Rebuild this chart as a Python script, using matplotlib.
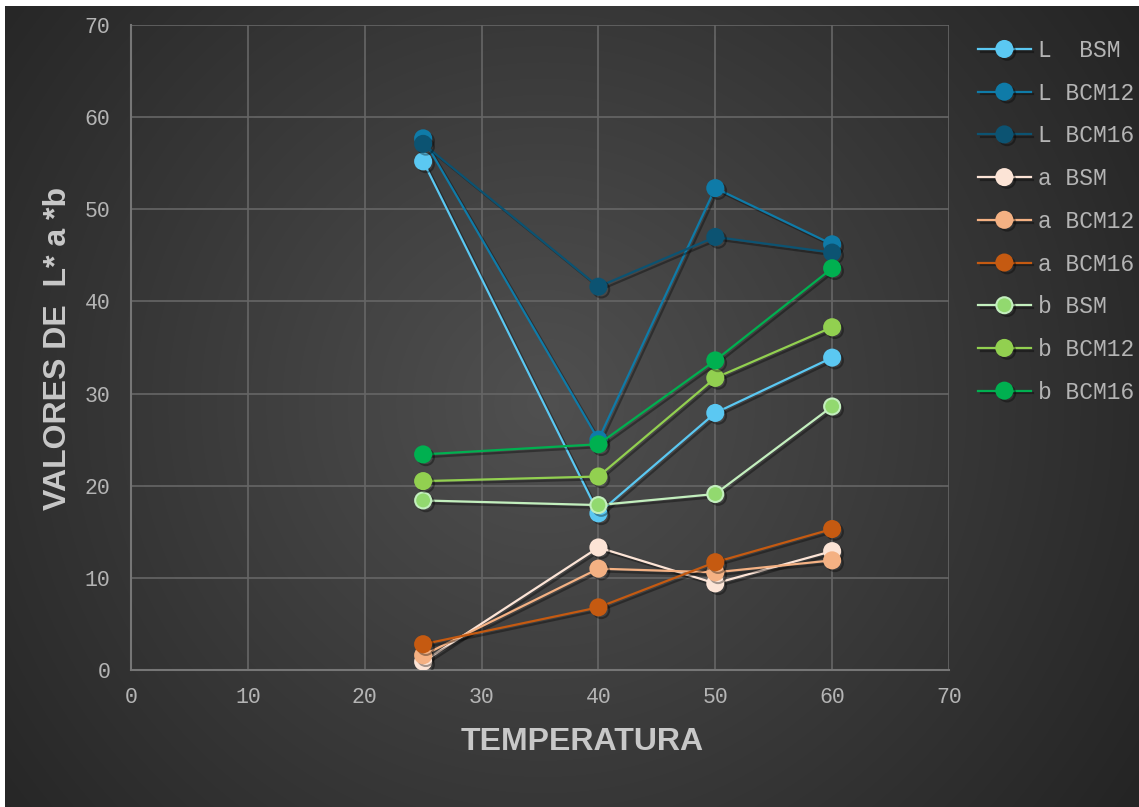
import numpy as np
import matplotlib
matplotlib.use("Agg")
from matplotlib import pyplot as plt
import matplotlib.patheffects as pe

temperatura = [25, 40, 50, 60]

L_BSM = [55.2, 17.0, 27.9, 33.9]
L_BCM12 = [57.7, 25.0, 52.3, 46.2]
L_BCM16 = [57.1, 41.6, 47.0, 45.3]
a_BSM = [0.9, 13.3, 9.4, 12.9]
a_BCM12 = [1.6, 11.0, 10.6, 11.9]
a_BCM16 = [2.8, 6.8, 11.7, 15.3]
b_BSM = [18.4, 17.9, 19.1, 28.6]
b_BCM12 = [20.5, 21.0, 31.7, 37.2]
b_BCM16 = [23.4, 24.5, 33.6, 43.6]

labels = ["L  BSM", "L BCM12", "L BCM16", "a BSM", "a BCM12", "a BCM16",
          "b BSM", "b BCM12", "b BCM16"]
series = [L_BSM, L_BCM12, L_BCM16, a_BSM, a_BCM12, a_BCM16, b_BSM, b_BCM12, b_BCM16]
line_colors = ["#5BC8F2", "#0F7BA8", "#0C5372", "#FCE4D6", "#F4B183", "#C55A11",
               "#C3EFBE", "#92D050", "#00B050"]
marker_colors = ["#5BC8F2", "#0F7BA8", "#0C5372", "#FCE4D6", "#F4B183", "#C55A11",
                 "#92D96F", "#92D050", "#00B050"]

W, H = 1139, 807
fig = plt.figure(figsize=(W / 100, H / 100), dpi=100)
fig.patch.set_facecolor("white")

# radial gradient background
bg = fig.add_axes([5 / W, 0, 1 - 5 / W, 1 - 6 / H])
yy, xx = np.mgrid[0:H, 0:W]
r = np.sqrt((xx - 540) ** 2 + (yy - 400) ** 2) / 720
r = np.clip(r, 0, 1)
inner = np.array([0x50, 0x50, 0x50]) / 255
outer = np.array([0x24, 0x24, 0x24]) / 255
img = inner[None, None, :] * (1 - r[..., None]) + outer[None, None, :] * r[..., None]
bg.imshow(img, aspect="auto", extent=[0, 1, 0, 1])
bg.set_axis_off()

ax = fig.add_axes([131 / W, 1 - 670 / H, (949 - 131) / W, (670 - 25) / H])
ax.set_facecolor("none")

shadow = [pe.SimpleLineShadow(offset=(2, -2), alpha=0.35, shadow_color="black"), pe.Normal()]
for vals, lab, lc, mc in zip(series, labels, line_colors, marker_colors):
    mec = "#C3EFBE" if lab == "b BSM" else mc
    ax.plot(temperatura, vals, color=lc, lw=1.6, marker="o", ms=11.5,
            mfc=mc, mec=mec, mew=1.5, label=lab, path_effects=shadow, zorder=3)

ax.set_xlim(0, 70)
ax.set_ylim(0, 70)
ax.set_xticks(range(0, 71, 10))
ax.set_yticks(range(0, 71, 10))
ax.grid(True, color="#666666", lw=1.2, zorder=0)
ax.set_axisbelow(True)
for s in ["top", "right"]:
    ax.spines[s].set_visible(False)
for s in ["left", "bottom"]:
    ax.spines[s].set_color("#767676")
    ax.spines[s].set_linewidth(1.5)
ax.tick_params(length=0, colors="#B4B4B4", labelsize=15.5)
ax.tick_params(axis="x", pad=12)
ax.tick_params(axis="y", pad=15)
for t in ax.get_xticklabels() + ax.get_yticklabels():
    t.set_family("Liberation Mono")

fig.text(582 / W, 1 - 742 / H, "TEMPERATURA", ha="center", va="center",
         fontsize=23, fontweight="bold", color="#C8C8C8", family="Liberation Sans")
fig.text(58 / W, 1 - 348 / H, "VALORES DE  L* a *b", ha="center", va="center",
         rotation=90, fontsize=23, fontweight="bold", color="#C8C8C8",
         family="Liberation Sans")

leg = fig.legend(loc="upper left", bbox_to_anchor=(978 / W, 1 - 39 / H),
                 frameon=False, borderpad=0, borderaxespad=0,
                 handlelength=2.3, handletextpad=0.3, labelspacing=0.86,
                 prop={"family": "Liberation Mono", "size": 16.5})
for t in leg.get_texts():
    t.set_color("#B4B4B4")

fig.savefig("out.png", dpi=100)
